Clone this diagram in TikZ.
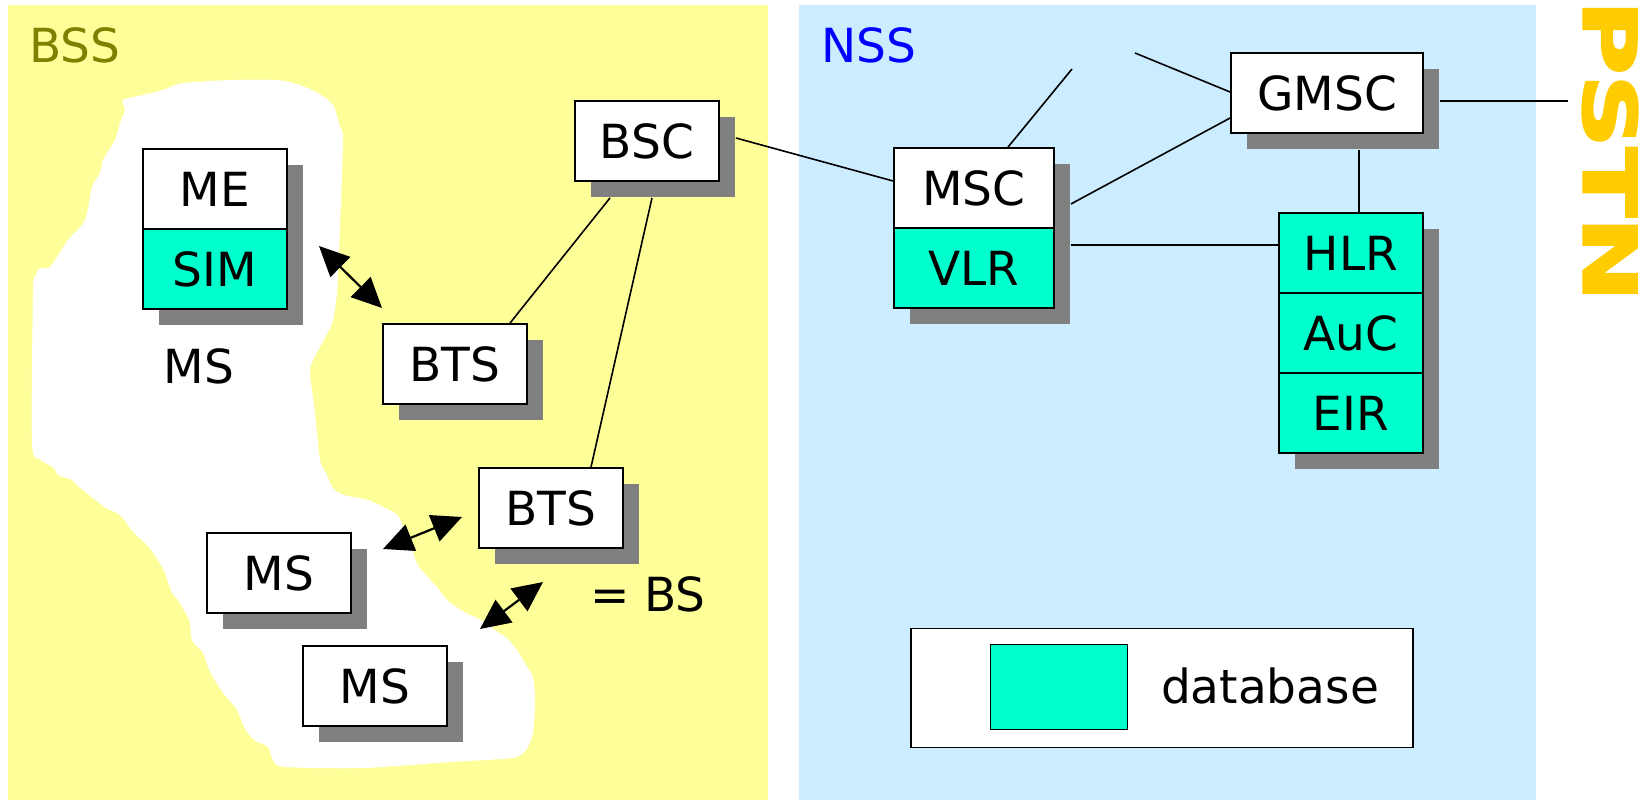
\documentclass[tikz,border=0pt]{standalone}
\usepackage{fontspec}
\usepackage{graphicx}
\setmainfont{DejaVu Sans}
\newfontfamily\pstnfont[FakeBold=3]{DejaVu Sans Bold}
\usetikzlibrary{arrows.meta,calc,shadows}

\definecolor{bssyellow}{HTML}{FFFF99}
\definecolor{nssblue}{HTML}{CCECFF}
\definecolor{dbteal}{HTML}{00FFCC}
\definecolor{shadowgray}{HTML}{808080}
\definecolor{bsslabel}{HTML}{808000}
\definecolor{nsslabel}{HTML}{0000FF}
\definecolor{pstngold}{HTML}{FFCC00}

\begin{document}
\begin{tikzpicture}[x=1pt,y=-1pt,
  lbl/.style={font=\fontsize{47pt}{56pt}\selectfont, inner sep=0pt},
  unit/.style={lbl, draw=black, line width=1.8pt, fill=white,
    minimum width=144pt, minimum height=80pt,
    drop shadow={shadow xshift=16pt, shadow yshift=-16pt, fill=shadowgray, opacity=1}},
  db/.style={unit, fill=dbteal},
  link/.style={line width=1.6pt, draw=black},
  radio/.style={line width=2.2pt,
    {Triangle[length=30pt,width=28pt]}-{Triangle[length=30pt,width=28pt]}},
]
\useasboundingbox (0,0) rectangle (1650,802);
\fill[white] (0,0) rectangle (1650,802);

% subsystem panels
\fill[bssyellow] (8,5) rectangle (768,800);
\fill[nssblue] (799,5) rectangle (1536,800);

% radio coverage area
\fill[white] plot[smooth cycle, tension=0.45] coordinates {
  (123,100) (143,95) (163,90) (183,83) (233,80) (277,80) (300,85) (318,93)
  (333,105) (340,127) (343,140) (340,227) (337,293) (332,323) (320,347)
  (313,360) (310,373) (315,413) (320,460) (326,473) (333,488) (344,495)
  (368,500) (385,508) (399,517) (413,553) (419,567) (437,587) (447,600)
  (464,612) (481,620) (495,630) (509,640) (519,653) (526,665) (533,677)
  (535,700) (533,733) (526,750) (512,758) (450,762) (364,768) (285,767)
  (273,760) (268,747) (254,740) (244,727) (237,710) (223,693) (213,677)
  (208,667) (203,653) (192,640) (189,620) (178,600) (172,593) (165,573)
  (158,560) (147,545) (134,533) (120,515) (106,508) (79,487) (72,480)
  (58,475) (54,468) (41,460) (32,443) (33,293) (35,277) (40,268) (50,267)
  (68,240) (85,220) (92,187) (100,173) (103,160) (115,140) (120,123) (125,110)};

% titles
\node[lbl, anchor=base west, text=bsslabel] (bss) at (29,63) {BSS};
\node[lbl, anchor=base west, text=nsslabel] (nss) at (821,63) {NSS};
\node[inner sep=0pt, rotate=-90, text=pstngold,
      font=\fontsize{73pt}{80pt}\pstnfont] (pstn) at (1610,151)
      {\scalebox{1.39}[1]{PSTN}};

% mobile station
\node[unit] (me) at (215,189) {ME};
\node[db] (sim) at (215,269) {SIM};
\node[lbl] (mslabel) at (199,366) {MS};
\node[unit] (ms2) at (279,573) {MS};
\node[unit] (ms3) at (375,686) {MS};

% base station subsystem
\node[unit] (bsc) at (647,141) {BSC};
\node[unit] (bts1) at (455,364) {BTS};
\node[unit] (bts2) at (551,508) {BTS};
\node[lbl] (bslabel) at (648,594) {= BS};

% network subsystem
\node[unit, minimum width=160pt] (msc) at (974,188) {MSC};
\node[db, minimum width=160pt] (vlr) at (974,268) {VLR};
\node[unit, minimum width=192pt] (gmsc) at (1327,93) {GMSC};
\node[db] (hlr) at (1351,253) {HLR};
\node[db] (auc) at (1351,333) {AuC};
\node[db] (eir) at (1351,413) {EIR};

% legend
\node[draw=black, line width=1.8pt, fill=white, minimum width=502pt,
      minimum height=119pt, inner sep=0pt] (legend) at (1162,688) {};
\node[draw=black, line width=1.8pt, fill=dbteal, minimum width=137pt,
      minimum height=85pt, inner sep=0pt] (dbkey) at (1059,687) {};
\node[lbl, anchor=base] (dbtext) at (1270,703) {database};

% free line ends
\coordinate (mscout) at (1072,69);
\coordinate (gmscin) at (1135,53);
\coordinate (pstnin) at (1568,101);

% wired links
\draw[link] ($(bsc.east)+(16,-3)$) -- ($(msc.west)+(0,-7)$);
\draw[link] ($(bsc.south)+(-37,16)$) -- ($(bts1.north)+(55,0)$);
\draw[link] ($(bsc.south)+(5,16)$) -- ($(bts2.north)+(40,0)$);
\draw[link] ($(msc.north)+(34,0)$) -- (mscout);
\draw[link] (gmscin) -- ($(gmsc.west)+(0,-1)$);
\draw[link] ($(msc.east)+(16,16)$) -- ($(gmsc.west)+(0,25)$);
\draw[link] ($(vlr.east)+(16,-23)$) -- ($(hlr.west)+(0,-8)$);
\draw[link] ($(gmsc.south)+(32,16)$) -- ($(hlr.north)+(8,0)$);
\draw[link] ($(gmsc.east)+(16,8)$) -- (pstnin);

% radio links
\coordinate (r1a) at (319,246);
\coordinate (r1b) at (382,308);
\coordinate (r2a) at (383,549);
\coordinate (r2b) at (462,517);
\coordinate (r3a) at (480,629);
\coordinate (r3b) at (543,582);
\draw[radio] (r1a) -- (r1b);
\draw[radio] (r2a) -- (r2b);
\draw[radio] (r3a) -- (r3b);
\end{tikzpicture}
\end{document}
